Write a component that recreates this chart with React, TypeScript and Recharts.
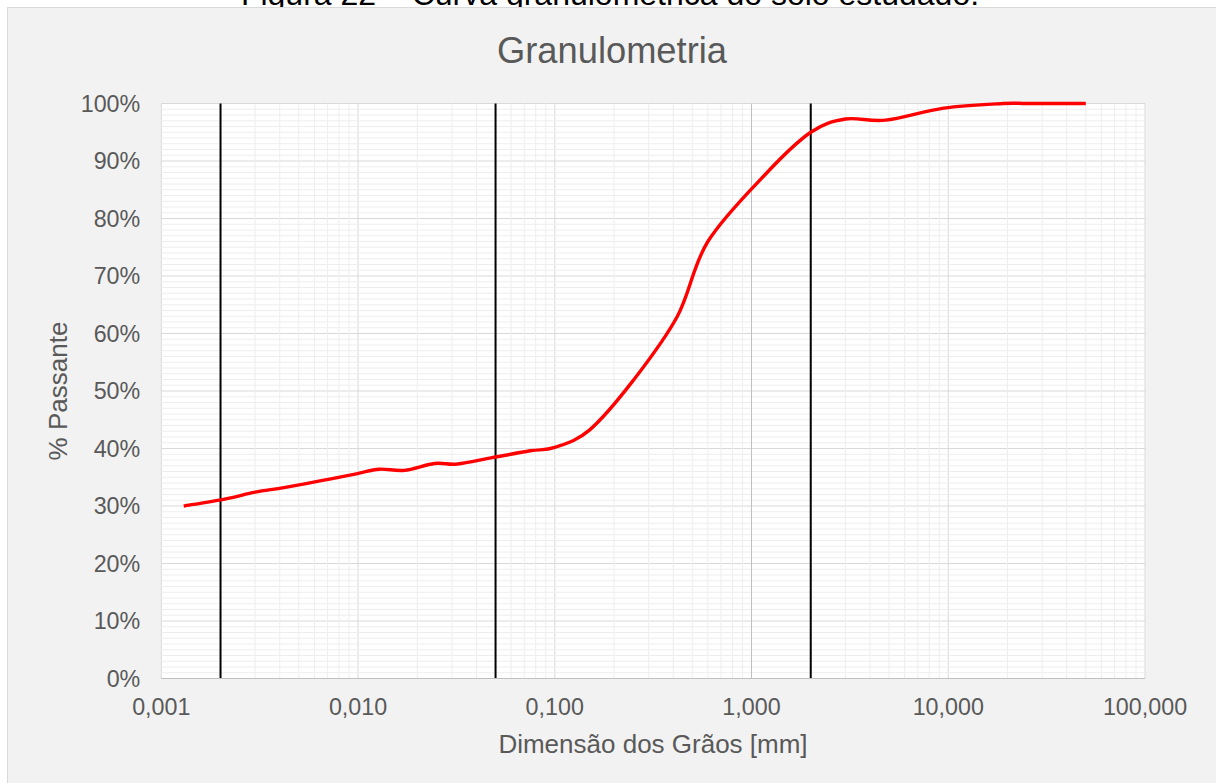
import { LineChart, Line, XAxis, YAxis, CartesianGrid, ReferenceLine } from 'recharts';

// grain size (mm) and % passing
const diameters = [
  0.0013, 0.0021, 0.003, 0.0042, 0.0065, 0.0098, 0.0128, 0.0172, 0.0245, 0.032, 0.048,
  0.075, 0.1, 0.15, 0.25, 0.42, 0.6, 1.2, 2.0, 3.0, 4.8, 9.5, 19, 25, 38, 50,
];
const passing = [
  30.0, 31.2, 32.4, 33.2, 34.4, 35.6, 36.4, 36.2, 37.4, 37.3, 38.4,
  39.6, 40.2, 43.2, 51.8, 63.0, 76.0, 88.0, 95.0, 97.3, 97.1, 99.2, 100, 100, 100, 100,
];

// soil fraction limits (clay / silt / sand / gravel)
const fractionLimits = [0.002, 0.05, 2];

const xTicks = [0.001, 0.01, 0.1, 1, 10, 100];
const yTicks = [0, 10, 20, 30, 40, 50, 60, 70, 80, 90, 100];

const data = diameters.map((d, i) => ({ d, p: passing[i] }));

// minor gridlines: 2..9 inside each decade, every 1% vertically
const xMinor: number[] = [];
for (let e = -3; e < 2; e++) {
  for (let m = 2; m <= 9; m++) xMinor.push(m * Math.pow(10, e));
}
const yMinor: number[] = [];
for (let v = 1; v < 100; v++) if (v % 10 !== 0) yMinor.push(v);

const FONT = '"Liberation Sans", Arial, sans-serif';
const TXT = '#595959';

// Excel-like smoothed line (Catmull-Rom through every point)
function excelSmooth(context: any) {
  let pts: number[][] = [];
  return {
    areaStart() {},
    areaEnd() {},
    lineStart() {
      pts = [];
    },
    point(x: number, y: number) {
      pts.push([+x, +y]);
    },
    lineEnd() {
      const n = pts.length;
      if (!n) return;
      context.moveTo(pts[0][0], pts[0][1]);
      for (let i = 0; i < n - 1; i++) {
        const p0 = pts[Math.max(i - 1, 0)];
        const p1 = pts[i];
        const p2 = pts[i + 1];
        const p3 = pts[Math.min(i + 2, n - 1)];
        context.bezierCurveTo(
          p1[0] + (p2[0] - p0[0]) / 6,
          p1[1] + (p2[1] - p0[1]) / 6,
          p2[0] - (p3[0] - p1[0]) / 6,
          p2[1] - (p3[1] - p1[1]) / 6,
          p2[0],
          p2[1]
        );
      }
    },
  };
}

const fmtX = (v: number) => v.toFixed(3).replace('.', ',');

export default function App() {
  return (
    <div style={{ position: 'absolute', left: 0, top: 0, width: 1216, height: 783, background: '#fff', overflow: 'hidden' }}>
      <svg width={1216} height={20} style={{ position: 'absolute', left: 0, top: 0 }}>
        <text x={610} y={4.5} textAnchor="middle" fontSize={32} fontFamily={FONT} fill="#000">
          Figura 22 – Curva granulométrica do solo estudado.
        </text>
      </svg>
      <div
        style={{
          position: 'absolute',
          left: 7,
          top: 7,
          width: 1216,
          height: 783,
          background: '#f2f2f2',
          borderLeft: '1px solid #d9d9d9',
          borderTop: '1px solid #d9d9d9',
        }}
      />
      <div style={{ position: 'absolute', left: 0, top: 0 }}>
        <LineChart width={1216} height={783} data={data} margin={{ top: 103.5, right: 71, bottom: 54.5, left: 61.3 }}>
          <CartesianGrid stroke="#d9d9d9" fill="#ffffff" />
          {xMinor.map((v) => (
            <ReferenceLine key={'vx' + v} x={v} stroke="#eeeeee" strokeWidth={1} />
          ))}
          {yMinor.map((v) => (
            <ReferenceLine key={'hy' + v} y={v} stroke="#eeeeee" strokeWidth={1} />
          ))}
          <ReferenceLine x={1} stroke="#bfbfbf" strokeWidth={1} />
          <XAxis
            dataKey="d"
            type="number"
            scale="log"
            domain={[0.001, 100]}
            ticks={xTicks}
            allowDataOverflow
            tickFormatter={fmtX}
            height={50}
            tickLine={false}
            tickSize={0}
            tickMargin={20}
            axisLine={{ stroke: '#bfbfbf' }}
            tick={{ fill: TXT, fontSize: 23.3, fontFamily: FONT }}
          />
          <YAxis
            type="number"
            domain={[0, 100]}
            ticks={yTicks}
            width={100}
            tickFormatter={(v: number) => `${v}%`}
            tickLine={false}
            axisLine={false}
            tickSize={0}
            tickMargin={21}
            tick={{ fill: TXT, fontSize: 23.3, fontFamily: FONT }}
          />
          {fractionLimits.map((v) => (
            <ReferenceLine key={'lim' + v} x={v} stroke="#000000" strokeWidth={2} />
          ))}
          <Line
            dataKey="p"
            type={excelSmooth as any}
            stroke="#ff0000"
            strokeWidth={3.4}
            dot={false}
            activeDot={false}
            isAnimationActive={false}
          />
        </LineChart>
      </div>
      <svg width={1216} height={783} style={{ position: 'absolute', left: 0, top: 0, pointerEvents: 'none' }}>
        <text x={612} y={62.7} textAnchor="middle" fontSize={36.3} fontFamily={FONT} fill={TXT}>
          Granulometria
        </text>
        <text x={653} y={753.3} textAnchor="middle" fontSize={26} fontFamily={FONT} fill={TXT}>
          Dimensão dos Grãos [mm]
        </text>
        <text
          x={66.5}
          y={391}
          textAnchor="middle"
          fontSize={26}
          fontFamily={FONT}
          fill={TXT}
          transform="rotate(-90 66.5 391)"
        >
          % Passante
        </text>
      </svg>
    </div>
  );
}
